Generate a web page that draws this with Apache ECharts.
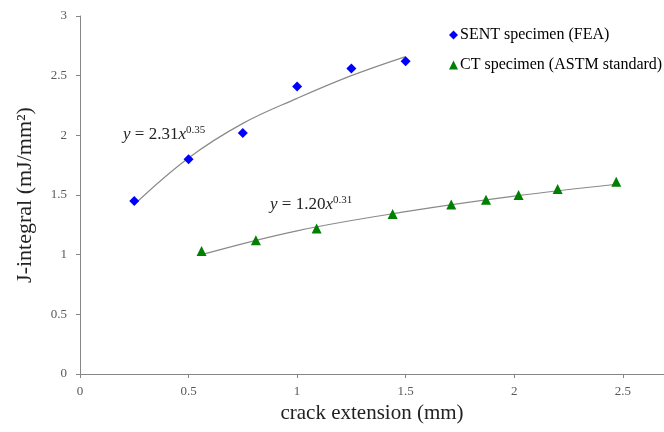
<!DOCTYPE html>
<html>
<head>
<meta charset="utf-8">
<script src="https://cdn.jsdelivr.net/npm/echarts@6/dist/echarts.min.js"></script>
<style>
html, body { margin: 0; padding: 0; background: #fff; }
#main { width: 664px; height: 432px; }
</style>
</head>
<body>
<div id="main"></div>
<script>
var sentX = [0.25, 0.5, 0.75, 1.0, 1.25, 1.5];
var sentY = [1.45, 1.80, 2.02, 2.41, 2.56, 2.62];

var ctX = [0.56, 0.81, 1.09, 1.44, 1.71, 1.87, 2.02, 2.20, 2.47];
var ctY = [1.03, 1.12, 1.22, 1.34, 1.42, 1.46, 1.50, 1.55, 1.61];

// trend lines
var sentFitX = [0.25, 0.5, 0.75, 1.0, 1.25, 1.5];
var sentFitY = [1.42, 1.81, 2.10, 2.31, 2.50, 2.66];
var ctFitX = [0.56, 1.0, 1.5, 2.0, 2.47];
var ctFitY = [1.00, 1.20, 1.36, 1.49, 1.59];

var yTicks = [0, 0.5, 1, 1.5, 2, 2.5, 3];

function pairs(xs, ys) {
    var out = [];
    for (var i = 0; i < xs.length; i++) {
        out.push([xs[i], ys[i]]);
    }
    return out;
}

var font = '"Liberation Serif", "DejaVu Serif", serif';
var axisGrey = '#868686';

var chart = echarts.init(document.getElementById('main'));

function eqText(txt, sup) {
    return {
        text: '{i|y} = ' + txt + '{i|x}{s|' + sup + '}',
        fontFamily: font,
        fontSize: 17,
        fill: '#222',
        rich: {
            i: { fontFamily: font, fontSize: 17, fontStyle: 'italic', fill: '#222' },
            s: { fontFamily: font, fontSize: 11, fill: '#222', verticalAlign: 'top', padding: [0, 0, 8, 0] }
        }
    };
}

var option = {
    animation: false,
    backgroundColor: '#fff',
    grid: {
        left: 80,
        right: 0,
        top: 16,
        bottom: 58,
        outerBoundsMode: 'none'
    },
    legend: {
        orient: 'vertical',
        left: 444,
        top: 22,
        itemWidth: 9,
        itemHeight: 9,
        itemGap: 14,
        data: [
            { name: 'SENT specimen (FEA)', icon: 'diamond' },
            { name: 'CT specimen (ASTM standard)', icon: 'triangle' }
        ],
        textStyle: {
            fontFamily: font,
            fontSize: 16,
            color: '#000',
            padding: [0, 0, 0, -3]
        }
    },
    xAxis: {
        type: 'value',
        min: 0,
        max: 2.69,
        interval: 0.5,
        name: 'crack extension (mm)',
        nameLocation: 'middle',
        nameGap: 27,
        nameTextStyle: {
            fontFamily: font,
            fontSize: 21,
            color: '#222'
        },
        axisLine: { show: true, lineStyle: { color: axisGrey } },
        axisTick: { show: true, length: 4, lineStyle: { color: axisGrey } },
        axisLabel: {
            showMaxLabel: false,
            margin: 11,
            fontFamily: font,
            fontSize: 13,
            color: '#595959'
        },
        splitLine: { show: false }
    },
    yAxis: {
        type: 'value',
        min: yTicks[0],
        max: yTicks[yTicks.length - 1],
        interval: 0.5,
        name: 'J-integral (mJ/mm²)',
        nameLocation: 'middle',
        nameGap: 44,
        nameTextStyle: {
            fontFamily: font,
            fontSize: 22,
            color: '#222'
        },
        axisLine: { show: true, lineStyle: { color: axisGrey } },
        axisTick: { show: true, length: 4, lineStyle: { color: axisGrey } },
        axisLabel: {
            margin: 13,
            fontFamily: font,
            fontSize: 13,
            color: '#595959'
        },
        splitLine: { show: false }
    },
    graphic: [
        { type: 'text', left: 123, top: 125, style: eqText('2.31', '0.35') },
        { type: 'text', left: 270, top: 195, style: eqText('1.20', '0.31') }
    ],
    series: [
        {
            name: 'SENT fit',
            type: 'line',
            smooth: 0.4,
            showSymbol: false,
            lineStyle: { color: '#8a8a8a', width: 1.2 },
            z: 1,
            data: pairs(sentFitX, sentFitY)
        },
        {
            name: 'CT fit',
            type: 'line',
            smooth: 0.4,
            showSymbol: false,
            lineStyle: { color: '#8a8a8a', width: 1.2 },
            z: 1,
            data: pairs(ctFitX, ctFitY)
        },
        {
            name: 'SENT specimen (FEA)',
            type: 'scatter',
            symbol: 'diamond',
            symbolSize: 10,
            itemStyle: { color: '#0000ff', opacity: 1 },
            z: 3,
            data: pairs(sentX, sentY)
        },
        {
            name: 'CT specimen (ASTM standard)',
            type: 'scatter',
            symbol: 'triangle',
            symbolSize: 10,
            itemStyle: { color: '#008000', opacity: 1 },
            z: 3,
            data: pairs(ctX, ctY)
        }
    ]
};

chart.setOption(option);

window.onresize = function() {
    chart.resize();
}
</script>
</body>
</html>
